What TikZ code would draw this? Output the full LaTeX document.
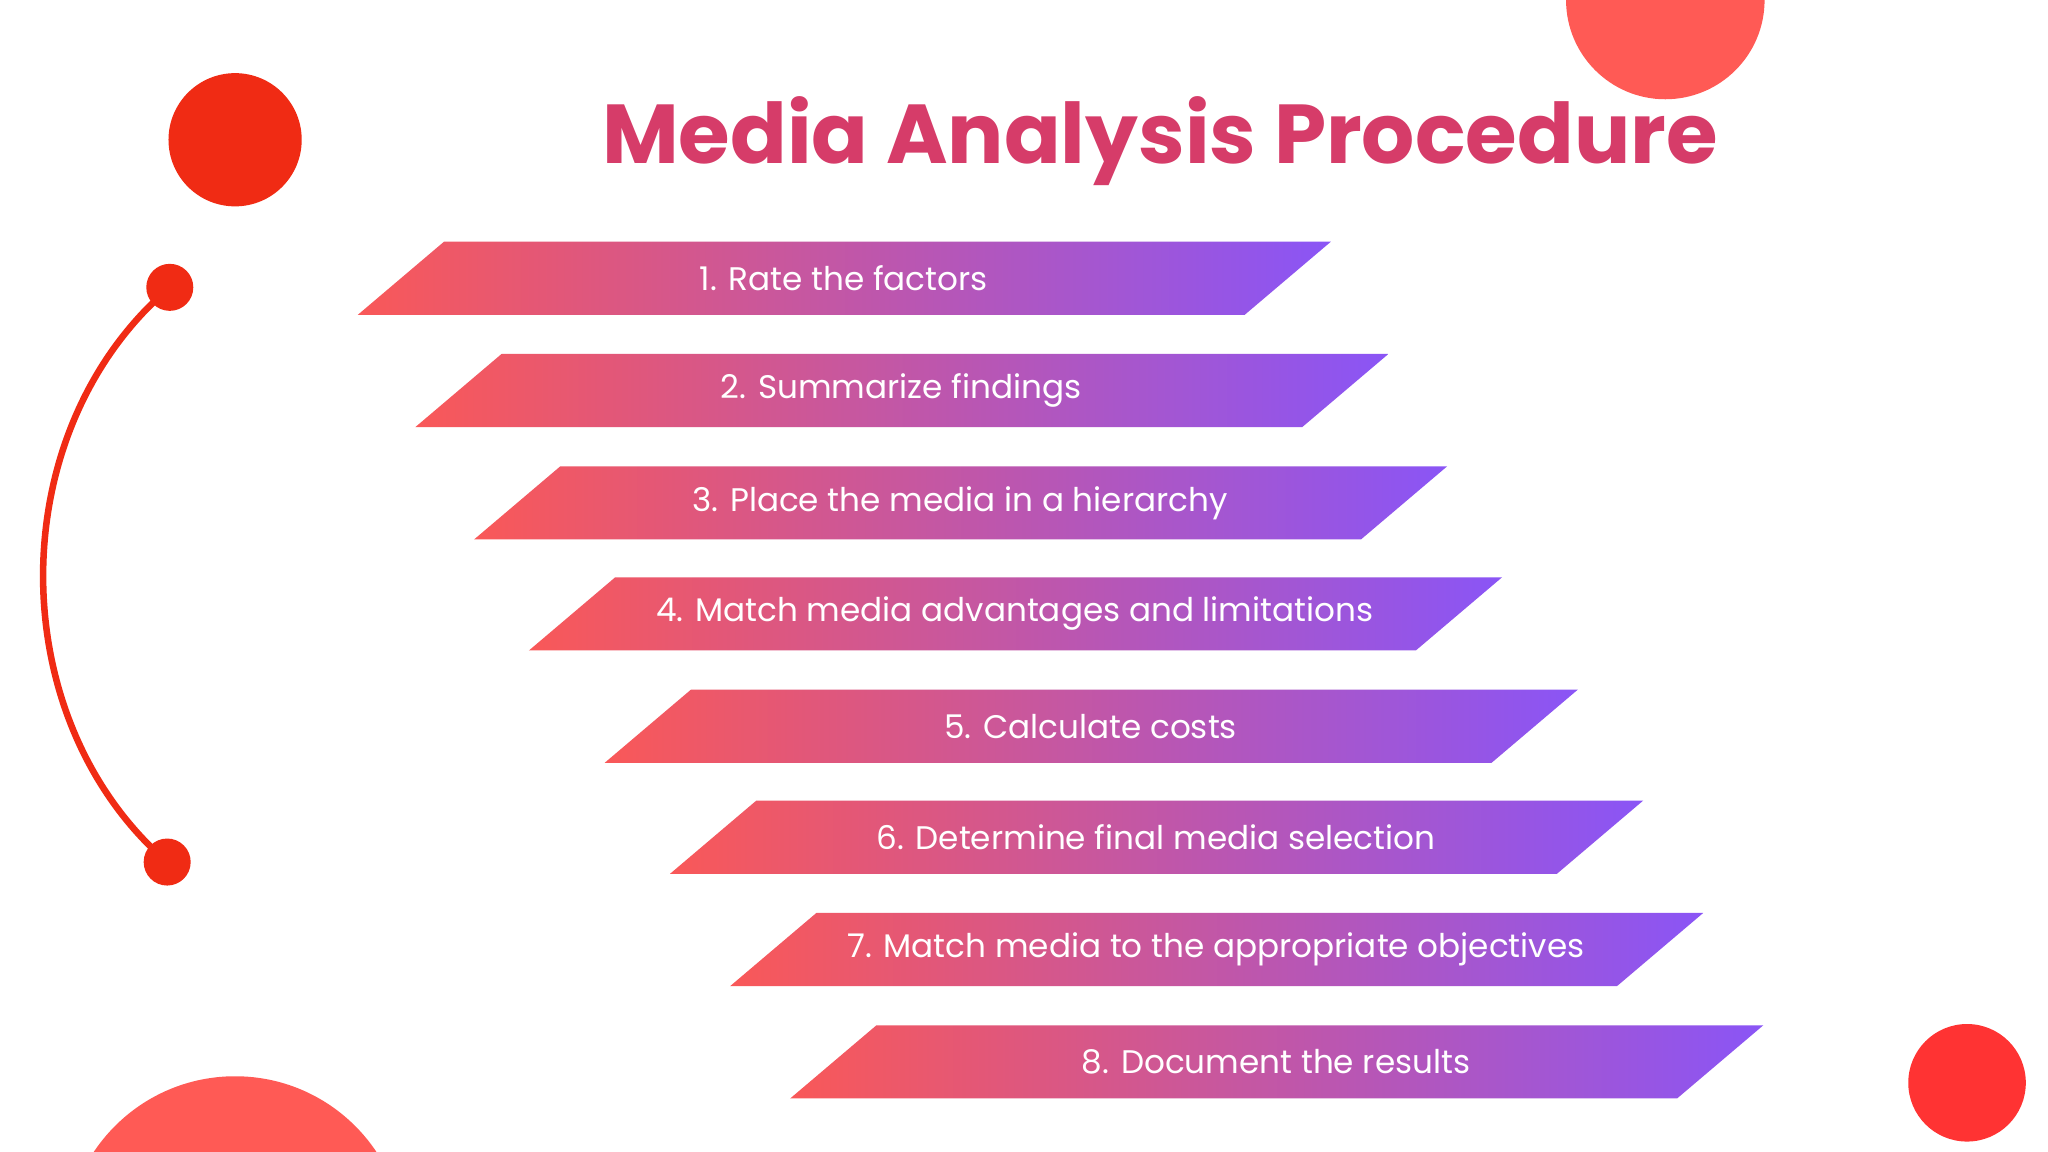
\documentclass[tikz,border=0pt]{standalone}
\usepackage{fontspec}
\setmainfont{Poppins}
\definecolor{gl}{HTML}{F95858}
\definecolor{gr}{HTML}{8A55F6}
\definecolor{ttl}{HTML}{D63C69}
\definecolor{red1}{HTML}{F02B14}
\definecolor{red2}{HTML}{FF5A55}
\definecolor{red3}{HTML}{FF3333}
\begin{document}
\begin{tikzpicture}[x=0.5pt,y=-0.5pt,
  lbl/.style={text=white,font=\fontsize{12.5}{14}\selectfont,inner sep=0pt}]
\useasboundingbox (0,0) rectangle (1568,882);
\fill[white] (0,0) rectangle (1568,882);
\begin{scope}
\clip (0,0) rectangle (1568,882);
\fill[red2] (1275,0) circle[radius=76];
\fill[red2] (180,954) circle[radius=130];
\end{scope}
\fill[red1] (180,107) circle[radius=51];
\fill[red3] (1506,829) circle[radius=45];
\coordinate (d1) at (130,220);
\coordinate (d2) at (128,660);
\draw[red1,line width=2.5pt] (d1) .. controls (1,330) and (1,550) .. (d2);
\fill[red1] (d1) circle[radius=18];
\fill[red1] (d2) circle[radius=18];
\node[text=ttl,font=\fontsize{32}{36}\selectfont\bfseries] (title) at (888,108) {Media Analysis Procedure};
\foreach \i/\xa/\yt/\t in {1/340/185/{1. Rate the factors},
  2/384/271/{2. Summarize findings},
  3/429/357/{3. Place the media in a hierarchy},
  4/471/442/{4. Match media advantages and limitations},
  5/529/528/{5. Calculate costs},
  6/579/613/{6. Determine final media selection},
  7/625/699/{7. Match media to the appropriate objectives},
  8/671/785/{8. Document the results}}{
  \shade[left color=gl,right color=gr] (\xa,\yt) -- (\xa+679,\yt) -- (\xa+613,\yt+56) -- (\xa-66,\yt+56) -- cycle;
  \node[lbl] (s\i) at (\xa+306,\yt+28) {\t};
}
\end{tikzpicture}
\end{document}
